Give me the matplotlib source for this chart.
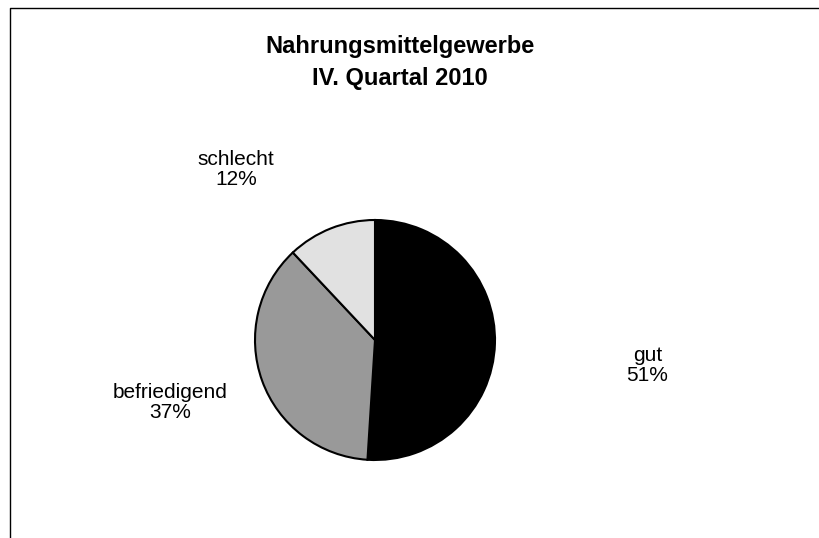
import matplotlib.pyplot as plt
import matplotlib.lines as mlines

plt.rcParams['font.family'] = ['Liberation Sans', 'DejaVu Sans']

categories = ["gut", "befriedigend", "schlecht"]
shares = [51, 37, 12]
colors = ["#000000", "#999999", "#e1e1e1"]

# label positions in axes data units (pie radius = 1)
label_pos = [(2.27, -0.21), (-1.71, -0.52), (-1.16, 1.42)]

fig = plt.figure(figsize=(8.2, 5.38), dpi=100)
W, H = 820, 538

# frame: only top and left edges visible in the original crop
fig.add_artist(mlines.Line2D([10 / W, 10 / W, 1.0], [0.0, 1 - 8 / H, 1 - 8 / H],
                             transform=fig.transFigure, color="black", lw=1.0))

fig.text(400 / W, 1 - 47 / H, "Nahrungsmittelgewerbe", ha="center", va="center",
         fontsize=17, fontweight="bold")
fig.text(400 / W, 1 - 78 / H, "IV. Quartal 2010", ha="center", va="center",
         fontsize=17, fontweight="bold")

ax = fig.add_axes([255 / W, (H - 460) / H, 240 / W, 240 / H])
ax.pie(shares, colors=colors, startangle=90, counterclock=False,
       wedgeprops=dict(edgecolor="black", linewidth=1.5))
ax.set_xlim(-1, 1)
ax.set_ylim(-1, 1)
ax.set_aspect("equal")
ax.axis("off")

for name, val, (x, y) in zip(categories, shares, label_pos):
    ax.text(x, y, f"{name}\n{val}%", ha="center", va="center", fontsize=15,
            linespacing=1.05, clip_on=False)

fig.savefig("out.png", dpi=100)
plt.close(fig)
